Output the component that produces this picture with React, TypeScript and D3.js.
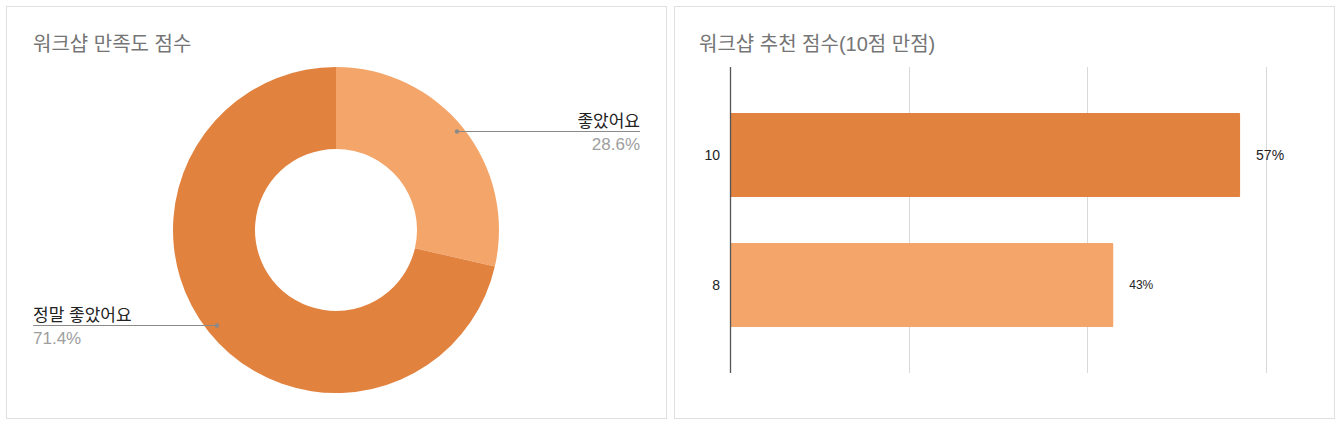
import React from "react";
import * as d3 from "d3";

const pieCategories = ["좋았어요", "정말 좋았어요"];
const pieValues = [28.6, 71.4];
const pieColors = ["#F4A66A", "#E1823F"];

const barCategories = ["10", "8"];
const barValues = [0.571, 0.429];
const barLabels = ["57%", "43%"];
const barColors = ["#E1823F", "#F4A66A"];
const xTicks = [0, 0.2, 0.4, 0.6];

const FONT = "'Liberation Sans', Arial, 'Noto Sans CJK KR', sans-serif";

export default function App() {
  const cx = 336, cy = 230, rOuter = 163, rInner = 81;
  const pie = d3.pie<number>().sort(null).value((d) => d)(pieValues);
  const arc = d3.arc<d3.PieArcDatum<number>>().innerRadius(rInner).outerRadius(rOuter);

  const x = d3.scaleLinear().domain([0, 0.6]).range([730, 1266]);
  const y = d3.scaleBand().domain(barCategories).range([90, 350]).paddingInner(0.354).paddingOuter(0.177);

  return (
    <svg width={1341} height={426} style={{ position: "absolute", left: 0, top: 0, display: "block" }} fontFamily={FONT}>
      <rect x={0} y={0} width={1341} height={426} fill="#fff" />
      <rect x={6.5} y={6.5} width={660} height={412} fill="#fff" stroke="#e0e0e0" />
      <rect x={674.5} y={6.5} width={660} height={412} fill="#fff" stroke="#e0e0e0" />

      <text x={33} y={51} fontSize={20} fill="#757575">워크샵 만족도 점수</text>
      <g transform={`translate(${cx},${cy})`}>
        {pie.map((p, i) => (
          <path key={i} d={arc(p) || ""} fill={pieColors[i]} />
        ))}
      </g>
      <g>
        <line x1={457} y1={131.5} x2={640} y2={131.5} stroke="#8a8a8a" strokeWidth={1} />
        <circle cx={457} cy={131.5} r={2.2} fill="#8a8a8a" />
        <text x={640} y={127} textAnchor="end" fontSize={17} fill="#222">{pieCategories[0]}</text>
        <text x={640} y={150} textAnchor="end" fontSize={17} fill="#9e9e9e">{pieValues[0].toFixed(1)}%</text>
      </g>
      <g>
        <line x1={33} y1={325.5} x2={217} y2={325.5} stroke="#8a8a8a" strokeWidth={1} />
        <circle cx={217} cy={325.5} r={2.2} fill="#8a8a8a" />
        <text x={33} y={321} fontSize={17} fill="#222">{pieCategories[1]}</text>
        <text x={33} y={344} fontSize={17} fill="#9e9e9e">{pieValues[1].toFixed(1)}%</text>
      </g>

      <text x={699} y={51} fontSize={20} fill="#757575">워크샵 추천 점수(10점 만점)</text>
      {xTicks.slice(1).map((t) => (
        <line key={t} x1={Math.round(x(t)) + 0.5} x2={Math.round(x(t)) + 0.5} y1={67} y2={373} stroke="#d9d9d9" />
      ))}
      {barCategories.map((c, i) => (
        <g key={c}>
          <rect x={x(0)} y={y(c)} width={x(barValues[i]) - x(0)} height={y.bandwidth()} fill={barColors[i]} rx={1} />
          <text x={720} y={(y(c) || 0) + y.bandwidth() / 2} dy="0.35em" textAnchor="end" fontSize={14} fill="#222">{c}</text>
          <text x={x(barValues[i]) + 16} y={(y(c) || 0) + y.bandwidth() / 2} dy="0.35em" fontSize={i === 0 ? 14 : 12} fill="#222">{barLabels[i]}</text>
        </g>
      ))}
      <line x1={730.5} x2={730.5} y1={67} y2={373} stroke="#555" strokeWidth={1.3} />
    </svg>
  );
}
